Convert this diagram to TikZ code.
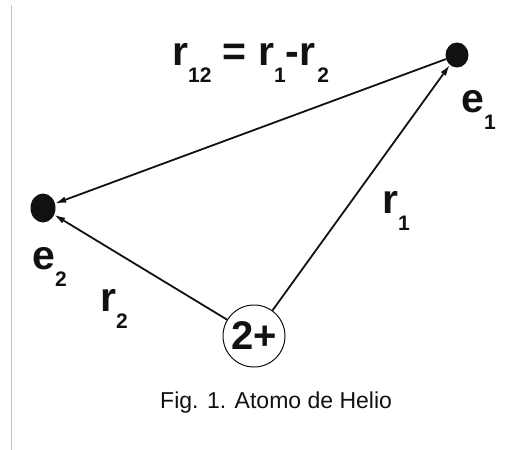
\documentclass[tikz,border=0pt]{standalone}
\usepackage{fontspec}
\setmainfont{Liberation Sans}
\usetikzlibrary{arrows.meta,shapes.geometric}
\definecolor{Frame}{HTML}{C4C4C4}
\definecolor{Ink}{HTML}{111111}
\newcommand{\idx}[1]{\raisebox{-17pt}{\fontsize{21}{21}\selectfont #1}}

\begin{document}
\begin{tikzpicture}[x=1pt,y=-1pt,every node/.style={text=Ink},
  dot/.style={ellipse,fill=Ink,inner sep=0pt},
  lbl/.style={font=\fontsize{41}{41}\selectfont\bfseries,inner sep=0pt,anchor=base west},
  vec/.style={draw=Ink,line width=1.8pt,-{Latex[length=11pt,width=6.5pt]}}]
\useasboundingbox (0,0) rectangle (515,450);
\fill[white] (0,0) rectangle (515,450);
\draw[Frame,line width=1pt] (11,5) -- (11,450);
\node[dot,minimum width=23pt,minimum height=25pt] (e1) at (457,55) {};
\node[dot,minimum width=25pt,minimum height=29pt] (e2) at (43,208) {};
\node[circle,draw=Ink,line width=1pt,minimum size=62pt,inner sep=0pt,font=\fontsize{40}{40}\selectfont\bfseries] (nuc) at (254,336) {2+};
\draw[vec] (nuc) -- (e1);
\draw[vec] (nuc) -- (e2);
\draw[vec] (e1) -- (e2);
\node[lbl] (r12) at (172,65) {r\idx{12} = r\idx{1}-r\kern2pt\idx{2}};
\node[lbl] (le1) at (461,112) {e\idx{1}};
\node[lbl] (le2) at (32,269) {e\idx{2}};
\node[lbl] (r1) at (382,213) {r\idx{1}};
\node[lbl] (r2) at (100,311) {r\idx{2}};
\node[font=\fontsize{23}{23}\selectfont,anchor=base west,inner sep=0pt] (cap) at (160,408) {Fig. 1. Atomo de Helio};
\end{tikzpicture}
\end{document}
